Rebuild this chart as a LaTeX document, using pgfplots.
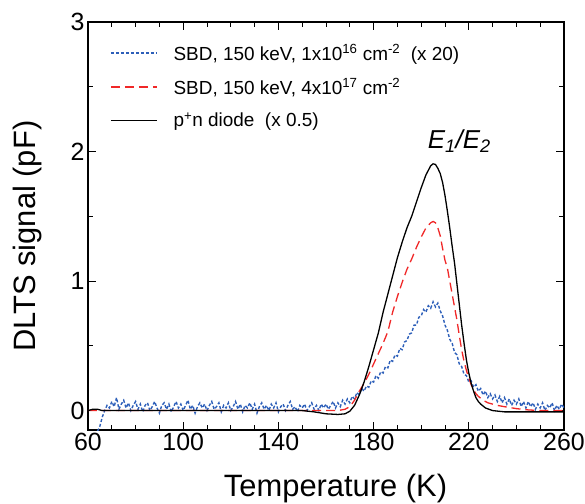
\documentclass[border=0pt]{standalone}
\usepackage{pgfplots}
\pgfplotsset{compat=1.18}
\usepackage{fontspec}
\setmainfont{Liberation Sans}
\definecolor{myblue}{RGB}{45,95,185}
\definecolor{myred}{RGB}{240,40,40}
\begin{document}
\begin{tikzpicture}
\begin{axis}[
 scale only axis, width=476bp, height=408bp,
 at={(0,0)}, anchor=south west,
 xmin=60, xmax=260, ymin=-0.15, ymax=3,
 xtick={60,100,...,260}, minor x tick num=3,
 ytick={0,1,2,3}, minor y tick num=1,
 tick align=inside, major tick length=8bp, minor tick length=5bp,
 tick style={black, line width=1pt},
 axis line style={line width=1.2pt},
 ticklabel style={font=\fontsize{25}{29}\selectfont},
 /pgf/number format/assume math mode=true,
 xlabel={Temperature (K)}, ylabel={DLTS signal (pF)},
 label style={font=\fontsize{31}{36}\selectfont},
 xlabel style={at={(axis description cs:0.52,-0.164)}, anchor=base},
 ylabel style={at={(axis description cs:-0.128,0.475)}, anchor=center},
 legend style={draw=none, fill=none, at={(0.04,0.955)}, anchor=north west,
   font=\fontsize{19}{23}\selectfont, row sep=13bp,
   /tikz/every odd column/.append style={column sep=14bp}},
 legend cell align=left,
 legend image code/.code={\draw[#1] (0bp,0bp) -- (46bp,0bp);},
]
\addplot[myblue, line width=1.4bp, dash pattern=on 3bp off 2bp] coordinates {
(64,-0.16)(65,-0.12)(66,-0.05)(67,0.00)(68,0.04)(69,0.02)(70,0.07)(71,0.03)(72,0.10)(73,0.01)
(74,0.05)(75,0.08)(76,0.02)(77,0.06)(78,0.00)(79,0.04)(80,0.07)(81,0.01)(82,0.05)(83,-0.01)
(84,0.04)(85,0.06)(86,0.00)(87,0.03)(88,0.07)(89,0.02)(90,-0.02)(91,0.04)(92,0.06)(93,0.01)
(94,0.05)(95,-0.01)(96,0.03)(97,0.07)(98,0.02)(99,0.05)(100,0.00)(101,0.04)(102,0.08)(103,0.01)
(104,0.04)(105,-0.02)(106,0.03)(107,0.06)(108,0.02)(109,0.05)(110,0.00)(111,0.04)(112,0.07)(113,0.01)
(114,0.03)(115,0.06)(116,-0.01)(117,0.04)(118,0.02)(119,0.06)(120,0.00)(121,0.03)(122,0.07)(123,0.01)
(124,0.05)(125,-0.01)(126,0.04)(127,0.02)(128,0.06)(129,0.01)(130,0.05)(131,-0.02)(132,0.03)(133,0.06)
(134,0.01)(135,0.04)(136,0.00)(137,0.05)(138,0.02)(139,0.06)(140,-0.01)(141,0.03)(142,0.05)(143,0.00)
(144,0.04)(145,0.07)(146,0.01)(147,0.03)(148,-0.01)(149,0.04)(150,0.02)(151,0.05)(152,0.00)(153,0.03)
(154,0.06)(155,0.01)(156,0.04)(157,0.00)(158,0.05)(159,0.02)(160,0.05)(161,0.01)(162,0.04)(163,0.07)
(164,0.02)(165,0.06)(166,0.03)(167,0.08)(168,0.05)(169,0.09)(170,0.06)(171,0.11)(172,0.09)(173,0.14)
(174,0.12)(175,0.17)(176,0.15)(177,0.19)(178,0.18)(179,0.23)(180,0.22)(181,0.27)(182,0.25)(183,0.30)
(184,0.29)(185,0.34)(186,0.33)(187,0.39)(188,0.38)(189,0.43)(190,0.42)(191,0.48)(192,0.47)(193,0.53)
(194,0.54)(195,0.59)(196,0.60)(197,0.66)(198,0.66)(199,0.72)(200,0.73)(201,0.78)(202,0.76)(203,0.81)
(204,0.79)(205,0.84)(206,0.80)(207,0.83)(208,0.77)(209,0.73)(210,0.66)(211,0.62)(212,0.55)(213,0.52)
(214,0.45)(215,0.43)(216,0.36)(217,0.34)(218,0.28)(219,0.27)(220,0.22)(221,0.23)(222,0.18)(223,0.20)
(224,0.15)(225,0.17)(226,0.12)(227,0.15)(228,0.10)(229,0.13)(230,0.09)(231,0.12)(232,0.07)(233,0.11)
(234,0.06)(235,0.10)(236,0.05)(237,0.09)(238,0.04)(239,0.08)(240,0.05)(241,0.09)(242,0.03)(243,0.07)
(244,0.02)(245,0.07)(246,0.03)(247,0.06)(248,0.01)(249,0.05)(250,0.02)(251,0.06)(252,0.00)(253,0.04)
(254,0.02)(255,0.06)(256,0.00)(257,0.04)(258,0.01)(259,0.05)(260,0.02)
};
\addlegendentry{SBD, 150 keV, 1x10\textsuperscript{16} cm\textsuperscript{-2}\ \ (x 20)}
\addplot[myred, line width=1.3bp, dash pattern=on 9bp off 5bp] coordinates {
(60,0)(70,0)(80,0)(90,0)(100,0)(110,0)(120,0)(130,0)(140,0)(150,0)(160,0)(165,0)(168,0.01)(170,0.03)
(172,0.08)(174,0.15)(176,0.21)(178,0.28)(180,0.36)(182,0.44)(184,0.52)(186,0.61)(188,0.76)(190,0.88)
(192,0.99)(194,1.09)(196,1.17)(198,1.26)(200,1.34)(202,1.41)(204,1.45)(205,1.46)(206,1.45)(207,1.41)
(208,1.35)(209,1.25)(210,1.16)(211,1.10)(212,1.00)(213,0.90)(214,0.80)(215,0.70)(216,0.58)(217,0.47)
(218,0.38)(219,0.31)(220,0.25)(221,0.20)(222,0.16)(223,0.13)(224,0.11)(226,0.08)(228,0.06)(230,0.05)
(232,0.04)(235,0.03)(240,0.015)(245,0.005)(250,0)(260,0)
};
\addlegendentry{SBD, 150 keV, 4x10\textsuperscript{17} cm\textsuperscript{-2}}
\addplot[black, line width=1.3bp] coordinates {
(60,0)(62,0.01)(64,0.01)(66,0)(70,0)(80,0)(90,0)(100,0)(110,0)(120,0)(130,0)(140,0)(150,0)
(155,-0.01)(160,-0.025)(165,-0.03)(168,-0.025)(170,-0.005)(172,0.04)(174,0.12)(176,0.22)(178,0.34)
(180,0.47)(182,0.60)(184,0.76)(186,0.90)(188,1.04)(190,1.18)(192,1.30)(194,1.41)(196,1.50)(198,1.61)
(200,1.72)(202,1.82)(204,1.89)(205,1.905)(206,1.90)(207,1.87)(208,1.83)(209,1.76)(210,1.66)(211,1.54)
(212,1.41)(213,1.27)(214,1.14)(215,0.98)(216,0.82)(217,0.66)(218,0.52)(219,0.39)(220,0.29)(221,0.21)
(222,0.15)(223,0.10)(224,0.07)(225,0.05)(227,0.02)(230,0.0)(235,-0.01)(260,-0.01)
};
\addlegendentry{p\textsuperscript{+}n diode\ \ (x 0.5)}
\node[font=\fontsize{26}{30}\selectfont] at (axis cs:216,2.08) {\textit{E\textsubscript{1}/E\textsubscript{2}}};
\end{axis}
\pgfresetboundingbox
\path[use as bounding box] (-88bp,-74bp) rectangle (497bp,430bp);
\end{tikzpicture}
\end{document}
